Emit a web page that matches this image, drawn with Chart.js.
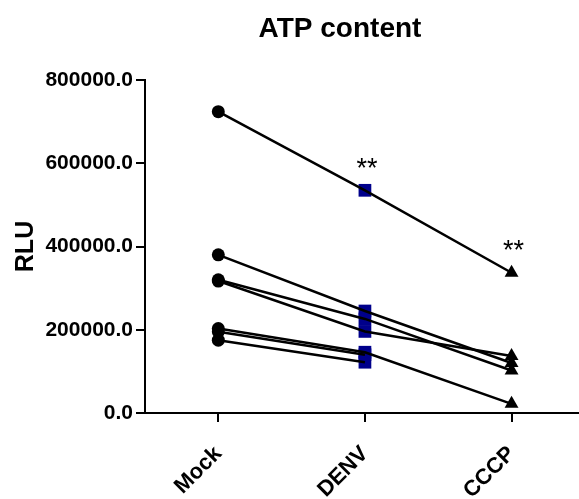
<!DOCTYPE html>
<html lang="en">

<head>
    <meta charset="UTF-8">
    <title>ATP content</title>
    <script src="https://cdn.jsdelivr.net/npm/chart.js"></script>
    <style>
        body { margin: 0; background: #fff; }
        #wrap { width: 579px; height: 499px; position: relative; }
    </style>
</head>

<body>
    <div id="wrap"><canvas id="atpChart"></canvas></div>

    <script>
        // values, one entry per sample
        const categories = ['Mock', 'DENV', 'CCCP'];
        const mock = [724000, 380000, 320000, 317000, 203000, 195000, 175000];
        const denv = [535000, 245000, 226000, 196000, 146000, 140000, 122000];
        const cccp = [337000, 120000, 102000, 137000, 22000, null, null];
        const stars = ['', '**', '**'];
        const yTicks = [0, 200000, 400000, 600000, 800000];

        const FONT = "'Liberation Sans', Arial, sans-serif";
        const groups = [mock, denv, cccp];

        // one line per sample, no markers
        const lineSets = mock.map((_, i) => ({
            data: groups.map((g, c) => ({ x: c, y: g[i] })).filter(p => p.y !== null),
            borderColor: '#000',
            borderWidth: 2.5,
            pointRadius: 0,
            showLine: true,
            fill: false,
            order: 1,
        }));

        const markerSets = [
            { vals: mock, style: 'circle', r: 6.5, color: '#000', order: 0 },
            { vals: denv, style: 'rect', r: 9, color: '#00008b', order: 2 },
            { vals: cccp, style: 'triangle', r: 8, color: '#000', order: 0 },
        ].map((m, c) => ({
            data: m.vals.filter(v => v !== null).map(v => ({ x: c, y: v })),
            showLine: false,
            pointStyle: m.style,
            pointRadius: m.r,
            pointBackgroundColor: m.color,
            pointBorderColor: m.color,
            pointBorderWidth: 0,
            order: m.order,
        }));

        const starPlugin = {
            id: 'stars',
            afterDatasetsDraw(chart) {
                const { ctx, scales } = chart;
                ctx.save();
                ctx.fillStyle = '#000';
                ctx.font = "27px " + FONT;
                ctx.textAlign = 'center';
                ctx.textBaseline = 'middle';
                stars.forEach((s, c) => {
                    if (!s) return;
                    const top = Math.max(...groups[c].filter(v => v !== null));
                    ctx.fillText(s, scales.x.getPixelForValue(c) + 2, scales.y.getPixelForValue(top) - 21);
                });
                ctx.restore();
            }
        };

        const titlePlugin = {
            id: 'topTitle',
            afterDraw(chart) {
                const ctx = chart.ctx;
                ctx.save();
                ctx.fillStyle = '#000';
                ctx.font = "bold 28px " + FONT;
                ctx.textAlign = 'center';
                ctx.textBaseline = 'middle';
                ctx.fillText('ATP content', 340, 29);
                ctx.restore();
            }
        };

        const config = {
            type: 'scatter',
            data: { datasets: [...lineSets, ...markerSets] },
            options: {
                responsive: true,
                maintainAspectRatio: false,
                animation: false,
                devicePixelRatio: 1,
                layout: { autoPadding: false, padding: { top: 80, right: 0, left: 0, bottom: 0 } },
                plugins: {
                    legend: { display: false },
                    tooltip: { enabled: false },
                    title: { display: false },
                },
                elements: { point: { hitRadius: 0 } },
                datasets: { scatter: { clip: false } },
                scales: {
                    x: {
                        type: 'linear',
                        min: -0.5,
                        max: 2.46,
                        afterBuildTicks: s => { s.ticks = categories.map((_, i) => ({ value: i })); },
                        afterFit: s => { s.height = 86; s.paddingRight = 0; s.paddingLeft = 0; },
                        border: { color: '#000', width: 2 },
                        grid: { drawOnChartArea: false, color: '#000', lineWidth: 2, tickLength: 9 },
                        ticks: {
                            color: '#000',
                            font: { family: FONT, size: 22, weight: 'bold' },
                            minRotation: 45,
                            maxRotation: 45,
                            padding: 19,
                            callback: v => categories[v],
                        },
                    },
                    y: {
                        min: 0,
                        max: 800000,
                        afterBuildTicks: s => { s.ticks = yTicks.map(v => ({ value: v })); },
                        afterFit: s => { s.width = 145; },
                        border: { color: '#000', width: 2 },
                        grid: { drawOnChartArea: false, color: '#000', lineWidth: 2, tickLength: 9 },
                        ticks: {
                            color: '#000',
                            font: { family: FONT, size: 21, weight: 'bold' },
                            padding: 3,
                            callback: v => v.toFixed(1),
                        },
                        title: {
                            display: true,
                            text: 'RLU',
                            color: '#000',
                            font: { family: FONT, size: 25, weight: 'bold' },
                            padding: { top: 11, bottom: 0 },
                        },
                    },
                },
            },
            plugins: [starPlugin, titlePlugin],
        };

        new Chart(document.getElementById('atpChart'), config);
    </script>
</body>

</html>
